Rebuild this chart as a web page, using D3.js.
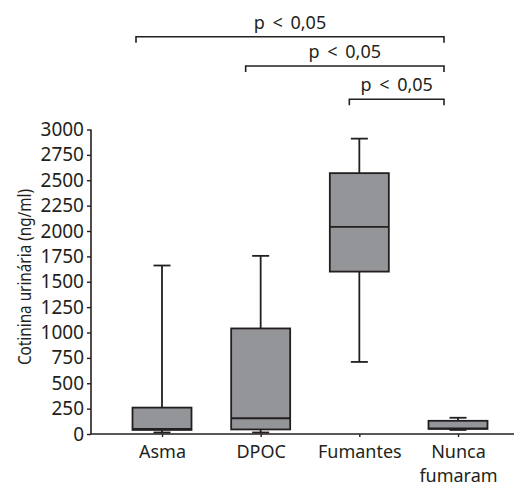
<!DOCTYPE html>
<html>
<head>
<meta charset="utf-8">
<script src="https://cdn.jsdelivr.net/npm/d3@7"></script>
<style>
    body { margin: 0; background: #fff; }
    text { font-family: "Noto Sans", sans-serif; fill: #231f20; }
</style>
</head>
<body>
<script>
// Categories and box statistics (ng/ml)
var groups = ["Asma", "DPOC", "Fumantes", "Nunca fumaram"];
var whiskerLow = [15, 15, 710, 40];
var q1 = [40, 45, 1600, 50];
var median = [50, 155, 2040, 56];
var q3 = [260, 1040, 2570, 130];
var whiskerHigh = [1660, 1755, 2910, 160];

var yTicks = [0, 250, 500, 750, 1000, 1250, 1500, 1750, 2000, 2250, 2500,
    2750, 3000];

// Significance brackets: from group, to group
var bracketFrom = ["Asma", "DPOC", "Fumantes"];
var bracketTo = ["Nunca fumaram", "Nunca fumaram", "Nunca fumaram"];
var bracketText = ["p < 0,05", "p < 0,05", "p < 0,05"];

var width = 514, height = 488;
var axisLeft = 91, axisRight = 514, plotTop = 129.5, plotBottom = 434;
var boxWidth = 59, capWidth = 17;
var ink = "#231f20";

var svg = d3.select("body")
    .append("svg")
    .attr("width", width)
    .attr("height", height);

var x = d3.scalePoint()
    .domain(groups)
    .range([162, 458]);

var y = d3.scaleLinear()
    .domain([0, 3000])
    .range([plotBottom, plotTop]);

//Y axis
var yAxis = svg.append("g")
    .attr("transform", "translate(" + axisLeft + ",0)")
    .call(d3.axisLeft(y).tickValues(yTicks).tickSize(4).tickPadding(3)
        .tickFormat(d3.format("d")));
yAxis.select(".domain")
    .attr("d", "M0," + plotTop + "V" + plotBottom)
    .attr("stroke", ink).attr("stroke-width", 1.6);
yAxis.selectAll(".tick line").attr("stroke", ink).attr("stroke-width", 1.4);
yAxis.selectAll(".tick text")
    .style("font-size", "19px")
    .attr("fill", ink);

//X axis
var xAxis = svg.append("g")
    .attr("transform", "translate(0," + plotBottom + ")")
    .call(d3.axisBottom(x).tickSize(3).tickPadding(8));
xAxis.select(".domain")
    .attr("d", "M" + axisLeft + ",0H" + axisRight)
    .attr("stroke", ink).attr("stroke-width", 1.6);
xAxis.selectAll(".tick line").attr("stroke", ink).attr("stroke-width", 1.4);
xAxis.selectAll(".tick text")
    .style("font-size", "18px")
    .attr("fill", ink)
    .each(function(d) {
        var t = d3.select(this), words = d.split(" ");
        t.text(null);
        words.forEach(function(w, i) {
            t.append("tspan")
                .attr("x", 0)
                .attr("dy", i === 0 ? "0.71em" : "1.35em")
                .text(w);
        });
    });

//Y label (narrowed to match the condensed face of the original)
svg.append("text")
    .attr("transform", "translate(31,277) rotate(-90) scale(0.85,1)")
    .attr("text-anchor", "middle")
    .style("font-size", "18px")
    .text("Cotinina urinária (ng/ml)");

//Boxes
var boxes = svg.append("g")
    .selectAll("g")
    .data(groups)
    .enter().append("g")
    .attr("stroke", ink)
    .attr("stroke-width", 1.8);

boxes.append("line")
    .attr("x1", function(d) { return x(d); })
    .attr("x2", function(d) { return x(d); })
    .attr("y1", function(d, i) { return y(whiskerLow[i]); })
    .attr("y2", function(d, i) { return y(whiskerHigh[i]); });

[whiskerLow, whiskerHigh].forEach(function(arr) {
    boxes.append("line")
        .attr("x1", function(d) { return x(d) - capWidth / 2; })
        .attr("x2", function(d) { return x(d) + capWidth / 2; })
        .attr("y1", function(d, i) { return y(arr[i]); })
        .attr("y2", function(d, i) { return y(arr[i]); });
});

boxes.append("rect")
    .attr("x", function(d) { return x(d) - boxWidth / 2; })
    .attr("width", boxWidth)
    .attr("y", function(d, i) { return y(q3[i]); })
    .attr("height", function(d, i) { return y(q1[i]) - y(q3[i]); })
    .attr("fill", "#939598");

boxes.append("line")
    .attr("x1", function(d) { return x(d) - boxWidth / 2; })
    .attr("x2", function(d) { return x(d) + boxWidth / 2; })
    .attr("y1", function(d, i) { return y(median[i]); })
    .attr("y2", function(d, i) { return y(median[i]); });

//Significance brackets
var bracketY = [36.7, 66, 99.3];
var fromOffset = [-26, -15, -10];
var toOffset = -14;

bracketFrom.forEach(function(f, i) {
    var x1 = x(f) + fromOffset[i], x2 = x(bracketTo[i]) + toOffset;
    var by = bracketY[i];
    svg.append("path")
        .attr("d", "M" + x1 + "," + (by + 6) + "V" + by + "H" + x2 +
            "V" + (by + 6))
        .attr("fill", "none")
        .attr("stroke", ink)
        .attr("stroke-width", 1.6);
    svg.append("text")
        .attr("x", (x1 + x2) / 2)
        .attr("y", by - 8)
        .attr("text-anchor", "middle")
        .style("font-size", "18px")
        .style("word-spacing", "3px")
        .text(bracketText[i]);
});
</script>
</body>
</html>
